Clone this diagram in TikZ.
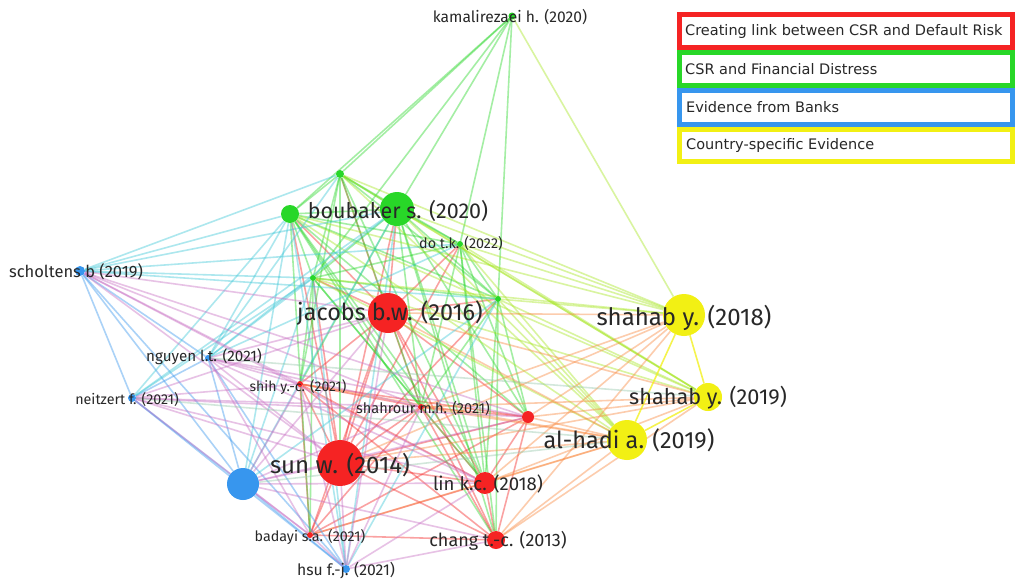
\documentclass[tikz,border=0pt]{standalone}
\usepackage{fontspec}
\newfontfamily\fira{Fira Sans}
\newfontfamily\dejavu{DejaVu Sans}
\definecolor{vred}{RGB}{245,35,35}
\definecolor{vgreen}{RGB}{40,215,40}
\definecolor{vblue}{RGB}{55,150,238}
\definecolor{vyellow}{RGB}{242,240,20}
\definecolor{eorange}{RGB}{250,135,60}
\definecolor{elime}{RGB}{165,230,30}
\definecolor{ecyan}{RGB}{60,200,215}
\definecolor{epurple}{RGB}{200,110,195}
\definecolor{epale}{RGB}{150,200,170}
\definecolor{labtext}{RGB}{40,40,40}
\pgfdeclarelayer{bg}
\pgfdeclarelayer{edges}
\pgfsetlayers{bg,edges,main}
\tikzset{
  vn/.style={circle,inner sep=0pt,minimum size=#1,draw=none},
  lab/.style={font=\fira\fontsize{#1}{#1}\selectfont,text=labtext,inner sep=0pt,anchor=center},
  edge/.style={line width=1.6pt,draw opacity=0.42},
  eRR/.style={edge,draw=vred},
  eGG/.style={edge,draw=vgreen},
  eBB/.style={edge,draw=vblue},
  eYY/.style={edge,draw=vyellow,draw opacity=0.75},
  eRY/.style={edge,draw=eorange},
  eGY/.style={edge,draw=elime},
  eBG/.style={edge,draw=ecyan},
  eBR/.style={edge,draw=epurple},
  eBY/.style={edge,draw=epale},
  legbox/.style={line width=5pt,fill=white},
  legtext/.style={font=\dejavu\fontsize{14.5}{14.5}\selectfont,text=labtext,anchor=west,inner sep=0pt}
}
\begin{document}
\begin{tikzpicture}[x=1pt,y=-1pt]
\useasboundingbox (0,0) rectangle (1016,581);
\begin{pgfonlayer}{bg}
\fill[white] (0,0) rectangle (1016,581);
\end{pgfonlayer}
% ---- items ----
% red cluster
\node[vn=40,fill=vred] (jac) at (388,313) {};
\node[vn=46,fill=vred] (sun) at (340,463) {};
\node[vn=22,fill=vred] (lin) at (485,483) {};
\node[vn=18,fill=vred] (cha) at (496,540) {};
\node[vn=6,fill=vred] (shi) at (300,384) {};
\node[vn=6,fill=vred] (shr) at (421,407) {};
\node[vn=12,fill=vred] (rs) at (528,417) {};
\node[vn=6,fill=vred] (bad) at (310,535) {};
% green cluster
\node[vn=7,fill=vgreen] (kam) at (512,16) {};
\node[vn=8,fill=vgreen] (g1) at (340,174) {};
\node[vn=18,fill=vgreen] (g2) at (290,214) {};
\node[vn=34,fill=vgreen] (bou) at (397,209) {};
\node[vn=6,fill=vgreen] (dot) at (460,244) {};
\node[vn=6,fill=vgreen] (g3) at (313,278) {};
\node[vn=6,fill=vgreen] (g4) at (498,299) {};
% blue cluster
\node[vn=10,fill=vblue] (sch) at (80,271) {};
\node[vn=6,fill=vblue] (ngu) at (208,358) {};
\node[vn=8,fill=vblue] (nei) at (132,398) {};
\node[vn=32,fill=vblue] (bb) at (243,484) {};
\node[vn=8,fill=vblue] (hsu) at (346,569) {};
% yellow cluster
\node[vn=42,fill=vyellow] (s18) at (684,315) {};
\node[vn=28,fill=vyellow] (s19) at (708,397) {};
\node[vn=40,fill=vyellow] (alh) at (627,440) {};
% ---- links ----
\begin{pgfonlayer}{edges}
\foreach \a/\b in {jac/sun,jac/lin,jac/cha,jac/shi,jac/shr,jac/rs,jac/bad,sun/lin,sun/cha,sun/shi,sun/shr,sun/rs,sun/bad,lin/cha,lin/shi,lin/shr,lin/rs,lin/bad,cha/shi,cha/shr,cha/rs,cha/bad,shi/shr,shi/rs,shi/bad,shr/rs,shr/bad,rs/bad,
  jac/g1,jac/g2,jac/bou,jac/dot,jac/g3,jac/g4,sun/g2,sun/bou,sun/dot,sun/g3,sun/g4}
  \draw[eRR] (\a) -- (\b);
\foreach \a/\b in {kam/g1,kam/g2,kam/bou,kam/dot,kam/g3,kam/g4,g1/g2,g1/bou,g1/dot,g1/g3,g1/g4,g2/bou,g2/dot,g2/g3,g2/g4,bou/dot,bou/g3,bou/g4,dot/g3,dot/g4,g3/g4,
  g1/sun,g1/lin,g1/shr,g2/lin,g2/shr,g2/cha,g2/rs,bou/lin,bou/cha,bou/shr,bou/rs,bou/shi,dot/lin,dot/cha,dot/rs,dot/shr,g3/shr,g3/lin,g3/shi,g3/bad,g4/lin,g4/cha,g4/rs,g4/shr,g2/bad,g1/shi}
  \draw[eGG] (\a) -- (\b);
\foreach \a/\b in {kam/s18,g1/s18,g1/s19,g2/s18,g2/alh,bou/s18,bou/s19,bou/alh,dot/s18,dot/s19,dot/alh,g3/s18,g3/alh,g4/s18,g4/s19,g4/alh,g1/alh,g2/s19,g3/s19}
  \draw[eGY] (\a) -- (\b);
\foreach \a/\b in {jac/s18,jac/s19,jac/alh,sun/s18,sun/alh,sun/s19,lin/s18,lin/alh,lin/s19,cha/alh,cha/s19,cha/s18,rs/s18,rs/s19,rs/alh,shr/s18,shr/alh,shr/s19,shi/alh,bad/alh}
  \draw[eRY] (\a) -- (\b);
\foreach \a/\b in {s18/s19,s18/alh,s19/alh}
  \draw[eYY] (\a) -- (\b);
\foreach \a/\b in {sch/ngu,sch/nei,sch/bb,sch/hsu,ngu/nei,ngu/bb,ngu/hsu,nei/bb,nei/hsu,bb/hsu}
  \draw[eBB] (\a) -- (\b);
\foreach \a/\b in {sch/g1,sch/g2,sch/bou,sch/g3,sch/g4,sch/dot,ngu/g1,ngu/g2,ngu/bou,ngu/g3,ngu/dot,nei/g2,nei/g3,nei/bou,bb/g2,bb/g3,bb/bou,hsu/g2,hsu/g3,hsu/bou,hsu/g4,bb/g4}
  \draw[eBG] (\a) -- (\b);
\foreach \a/\b in {sch/jac,sch/sun,sch/shi,sch/shr,sch/rs,sch/lin,ngu/jac,ngu/sun,ngu/shi,ngu/shr,ngu/rs,ngu/lin,ngu/bad,nei/jac,nei/sun,nei/shi,nei/shr,nei/rs,nei/lin,nei/bad,bb/jac,bb/sun,bb/shi,bb/shr,bb/lin,bb/cha,bb/bad,bb/rs,hsu/sun,hsu/jac,hsu/bad,hsu/shi,hsu/shr,hsu/lin,hsu/cha}
  \draw[eBR] (\a) -- (\b);
\foreach \a/\b in {bb/alh,ngu/s19,nei/alh}
  \draw[eBY] (\a) -- (\b);
\end{pgfonlayer}
% ---- labels ----
\node[lab=15.6] (lkam) at (510,17) {kamalirezaei h. (2020)};
\node[lab=21.5] (lbou) at (398,211) {boubaker s. (2020)};
\node[lab=14.3] (ldot) at (461,243) {do t.k. (2022)};
\node[lab=16.5] (lsch) at (76,272) {scholtens b (2019)};
\node[lab=23.4] (ljac) at (390,313) {jacobs b.w. (2016)};
\node[lab=24] (ls18) at (684,318) {shahab y. (2018)};
\node[lab=15.2] (lngu) at (204,357) {nguyen l.t. (2021)};
\node[lab=14.3] (lnei) at (127,399) {neitzert f. (2021)};
\node[lab=14] (lshi) at (298,387) {shih y.-c. (2021)};
\node[lab=14.5] (lshr) at (423,408) {shahrour m.h. (2021)};
\node[lab=21.7] (ls19) at (708,398) {shahab y. (2019)};
\node[lab=23.5] (lalh) at (629,440) {al-hadi a. (2019)};
\node[lab=24] (lsun) at (340,465) {sun w. (2014)};
\node[lab=18.6] (llin) at (488,484) {lin k.c. (2018)};
\node[lab=18] (lcha) at (498,541) {chang t.-c. (2013)};
\node[lab=14.3] (lbad) at (310,537) {badayi s.a. (2021)};
\node[lab=15.7] (lhsu) at (346,571) {hsu f.-j. (2021)};
% ---- legend ----
\draw[legbox,draw=vred] (679.5,14.5) rectangle (1012.5,47.5);
\draw[legbox,draw=vgreen] (679.5,52.5) rectangle (1012.5,85.5);
\draw[legbox,draw=vblue] (679.5,90.5) rectangle (1012.5,124.5);
\draw[legbox,draw=vyellow] (679.5,129.5) rectangle (1012.5,161.5);
\node[legtext] (t1) at (685,31) {Creating link between CSR and Default Risk};
\node[legtext] (t2) at (685,69) {CSR and Financial Distress};
\node[legtext] (t3) at (686,107) {Evidence from Banks};
\node[legtext] (t4) at (686,145) {Country-specific Evidence};
\end{tikzpicture}
\end{document}
